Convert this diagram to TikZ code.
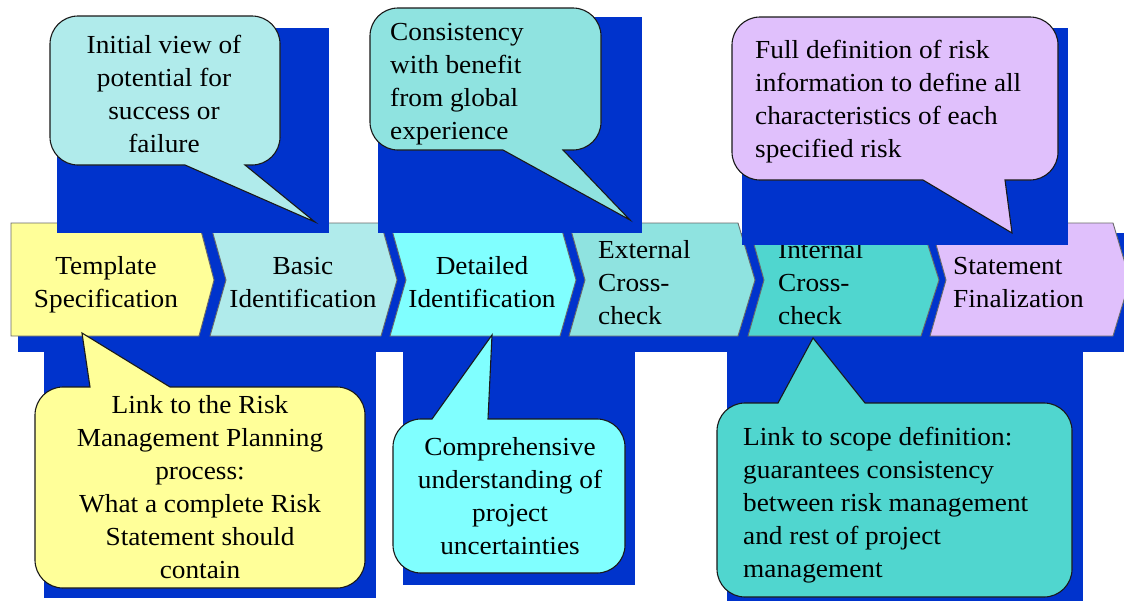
\documentclass[tikz,border=0pt]{standalone}
\usepackage{fontspec}
\setmainfont{Liberation Serif}[FakeStretch=1.05]

\begin{document}
\begin{tikzpicture}[x=1pt,y=1pt,yscale=-1,xscale=1,
  shadowblue/.style={fill={rgb, 255:red, 0; green, 51; blue, 204}},
  tmplfill/.style={fill={rgb, 255:red, 255; green, 255; blue, 153}},
  basicfill/.style={fill={rgb, 255:red, 176; green, 235; blue, 235}},
  detfill/.style={fill={rgb, 255:red, 128; green, 255; blue, 255}},
  extfill/.style={fill={rgb, 255:red, 143; green, 227; blue, 224}},
  intfill/.style={fill={rgb, 255:red, 80; green, 214; blue, 207}},
  statfill/.style={fill={rgb, 255:red, 224; green, 192; blue, 252}},
  chevron/.style={draw={rgb, 255:red, 105; green, 105; blue, 105}, line width=0.9},
  bubble/.style={draw={rgb, 255:red, 25; green, 25; blue, 25}, line width=1.1, rounded corners=28},
  txt/.style={inner sep=0, font=\fontsize{26}{33}\selectfont}]
\clip (0,0) rectangle (1124,603);
\fill[white] (0,0) rectangle (1124,603);
%Shape: Rectangle  
\fill[shadowblue] (18,233) rectangle (1124,352);
%Shape: Chevrons  
\draw[chevron, tmplfill] (11,223) -- (199,223) -- (214,280) -- (199,336) -- (11,336) -- cycle ;
\draw[chevron, basicfill] (210,223) -- (381,223) -- (397,280) -- (381,336) -- (210,336) -- (226,280) -- cycle ;
\draw[chevron, detfill] (390,223) -- (560,223) -- (576,280) -- (560,336) -- (390,336) -- (406,280) -- cycle ;
\draw[chevron, extfill] (569,223) -- (738,223) -- (755,280) -- (738,336) -- (569,336) -- (585,280) -- cycle ;
\draw[chevron, intfill] (748,223) -- (921,223) -- (939,280) -- (921,336) -- (748,336) -- (764,280) -- cycle ;
\draw[chevron, statfill] (930,223) -- (1113,223) -- (1130,280) -- (1113,336) -- (930,336) -- (946,280) -- cycle ;
\node[txt, anchor=base, align=center] (tmpl) at (106,307) {Template\\Specification};
\node[txt, anchor=base, align=center] (basic) at (303,307) {Basic\\Identification};
\node[txt, anchor=base, align=center] (detail) at (482,307) {Detailed\\Identification};
\node[txt, anchor=base west, align=left] (extcheck) at (598,324) {External\\Cross-\\check};
\node[txt, anchor=base west, align=left] (intcheck) at (778,324) {Internal\\Cross-\\check};
\node[txt, anchor=base west, align=left] (final) at (953,307) {Statement\\Finalization};
%Shape: Rectangle  
\fill[shadowblue] (57,28) rectangle (329,233);
\fill[shadowblue] (378,17) rectangle (642,233);
\fill[shadowblue] (742,28) rectangle (1068,245);
\fill[shadowblue] (44,337) rectangle (376,598);
\fill[shadowblue] (403,337) rectangle (635,585);
\fill[shadowblue] (727,337) rectangle (1083,601);
%Shape: Speech Bubble  
\draw[bubble, basicfill] (165,16) -- (280,16) -- (280,165) [sharp corners] -- (245,165) -- (315,222) -- (185,165) [rounded corners=28] -- (50,165) -- (50,16) -- cycle ;
\node[txt, anchor=base, align=center] (initview) at (164,152) {Initial view of\\potential for\\success or\\failure};
%Shape: Speech Bubble  
\draw[bubble, extfill] (485,8) -- (601,8) -- (601,150) [sharp corners] -- (563,150) -- (630,220) -- (503,150) [rounded corners=28] -- (370,150) -- (370,8) -- cycle ;
\node[txt, anchor=base west, align=left] (consist) at (390,139) {Consistency\\with benefit\\from global\\experience};
%Shape: Speech Bubble  
\draw[bubble, statfill] (895,17) -- (1058,17) -- (1058,180) [sharp corners] -- (1005,180) -- (1012,233) -- (923,180) [rounded corners=28] -- (732,180) -- (732,17) -- cycle ;
\node[txt, anchor=base west, align=left] (fulldef) at (755,157) {Full definition of risk\\information to define all\\characteristics of each\\specified risk};
%Shape: Speech Bubble  
\draw[bubble, tmplfill] (200,588) -- (35,588) -- (35,387) [sharp corners] -- (90,387) -- (82,333) -- (170,387) [rounded corners=28] -- (365,387) -- (365,588) -- cycle ;
\node[txt, anchor=base, align=center] (rmplink) at (200,578) {Link to the Risk\\Management Planning\\process:\\What a complete Risk\\Statement should\\contain};
%Shape: Speech Bubble  
\draw[bubble, detfill] (509,573) -- (393,573) -- (393,419) [sharp corners] -- (432,419) -- (492,335) -- (488,419) [rounded corners=28] -- (625,419) -- (625,573) -- cycle ;
\node[txt, anchor=base, align=center] (compre) at (510,554) {Comprehensive\\understanding of\\project\\uncertainties};
%Shape: Speech Bubble  
\draw[bubble, intfill] (894,597) -- (717,597) -- (717,403) [sharp corners] -- (778,403) -- (813,338) -- (865,403) [rounded corners=28] -- (1072,403) -- (1072,597) -- cycle ;
\node[txt, anchor=base west, align=left] (scopelink) at (743,577) {Link to scope definition:\\guarantees consistency\\between risk management\\and rest of project\\management};
\end{tikzpicture}
\end{document}
